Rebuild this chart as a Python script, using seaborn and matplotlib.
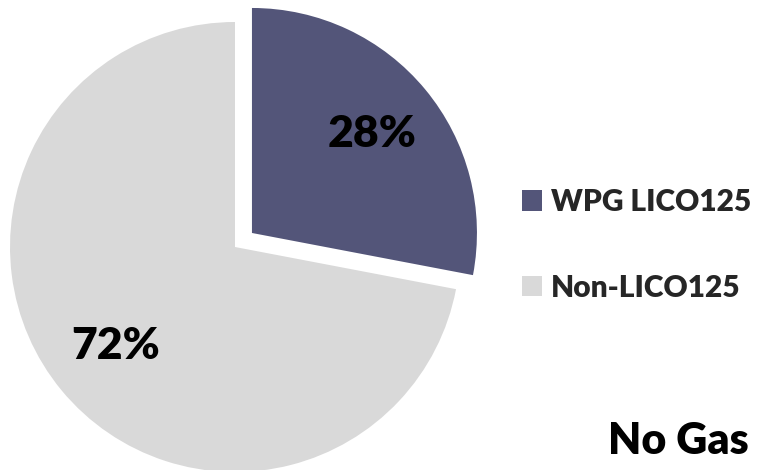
import matplotlib
matplotlib.use('Agg')
import matplotlib.pyplot as plt
import seaborn as sns

categories = ['WPG LICO125', 'Non-LICO125']
shares = [28, 72]
colors = ['#535579', '#D9D9D9']
title = 'No Gas'

sns.set_theme(style='white')
plt.rcParams['font.family'] = ['Lato', 'DejaVu Sans']
W = 'heavy'

fig = plt.figure(figsize=(7.59, 4.70), dpi=100)
ax = fig.add_axes([0, 0, 1, 1])
wedges, texts, autotexts = ax.pie(
    shares, colors=colors, startangle=90, counterclock=False,
    center=(235, 223), radius=225, explode=[22, 0],
    autopct=lambda p: f'{p:.0f}%', pctdistance=0.69,
    wedgeprops=dict(linewidth=0),
    textprops=dict(fontsize=32, fontweight=W, color='black'))
ax.set_xlim(0, 759)
ax.set_ylim(0, 470)
ax.set_aspect('equal')
ax.axis('off')

leg = ax.legend(wedges, categories, loc='center left', bbox_to_anchor=(0.652, 0.479),
                frameon=False, handlelength=0.68, handleheight=0.68,
                handletextpad=0.3, labelspacing=1.92, prop=dict(weight=W, size=21.5))

ax.text(0.986, 0.033, title, transform=ax.transAxes, ha='right', va='baseline',
        fontsize=31, fontweight=W, color='black')

fig.savefig('out.png', dpi=100)
